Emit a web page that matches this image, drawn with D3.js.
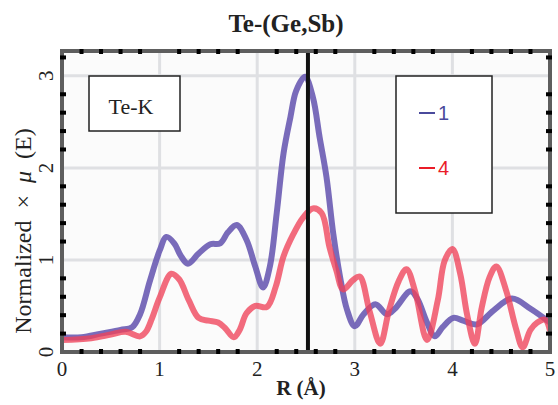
<!DOCTYPE html>
<html>
<head>
<meta charset="utf-8">
<script src="https://cdn.jsdelivr.net/npm/d3@7"></script>
<style>
  body { margin: 0; background: #fff; }
  svg { display: block; }
</style>
</head>
<body>
<svg id="chart" width="558" height="405"></svg>
<script>
// datos
const rS1 = [0, 0.2, 0.4, 0.6, 0.72, 0.8, 0.9, 1.0, 1.07, 1.15, 1.22, 1.29, 1.4, 1.52, 1.62, 1.7, 1.79, 1.89, 1.98, 2.06, 2.13, 2.2, 2.27, 2.34, 2.4, 2.49, 2.57, 2.64, 2.71, 2.78, 2.85, 2.92, 3.0, 3.09, 3.21, 3.33, 3.41, 3.57, 3.64, 3.74, 3.82, 3.9, 4.01, 4.11, 4.25, 4.42, 4.61, 4.8, 5.0];
const valS1 = [0.16, 0.16, 0.2, 0.24, 0.27, 0.41, 0.77, 1.1, 1.25, 1.18, 1.04, 0.96, 1.07, 1.17, 1.18, 1.3, 1.38, 1.22, 0.93, 0.7, 0.93, 1.51, 2.16, 2.55, 2.84, 2.99, 2.77, 2.33, 1.9, 1.28, 0.81, 0.46, 0.28, 0.41, 0.52, 0.41, 0.47, 0.66, 0.58, 0.32, 0.17, 0.27, 0.37, 0.34, 0.3, 0.45, 0.58, 0.47, 0.32];

const rS4 = [0, 0.3, 0.5, 0.65, 0.8, 0.86, 0.92, 1.0, 1.12, 1.2, 1.3, 1.4, 1.5, 1.6, 1.67, 1.76, 1.82, 1.89, 1.98, 2.1, 2.19, 2.27, 2.37, 2.47, 2.57, 2.66, 2.74, 2.81, 2.88, 2.98, 3.05, 3.15, 3.26, 3.35, 3.45, 3.53, 3.62, 3.74, 3.85, 3.92, 4.0, 4.08, 4.15, 4.23, 4.3, 4.38, 4.45, 4.55, 4.65, 4.72, 4.8, 4.87, 4.95, 5.0];
const valS4 = [0.13, 0.15, 0.19, 0.22, 0.17, 0.22, 0.36, 0.59, 0.85, 0.79, 0.56, 0.37, 0.34, 0.32, 0.26, 0.16, 0.24, 0.42, 0.5, 0.49, 0.71, 1.04, 1.28, 1.46, 1.56, 1.51, 1.14, 0.89, 0.68, 0.78, 0.82, 0.45, 0.09, 0.45, 0.77, 0.9, 0.65, 0.13, 0.56, 0.99, 1.12, 0.85, 0.41, 0.09, 0.48, 0.81, 0.93, 0.67, 0.26, 0.05, 0.24, 0.32, 0.35, 0.23];

const seriesNames = ['1', '4'];
const xTicks = [0, 1, 2, 3, 4, 5];
const yTicks = [0, 1, 2, 3];
const markerR = 2.52;

const titleText = 'Te-(Ge,Sb)';
const xLabel = 'R (Å)';
const yLabelParts = [['Normalized  ×  ', 'normal'], ['μ', 'italic'], ['  (E)', 'normal']];
const edgeLabel = 'Te-K';

// geometria
const plotLeft = 62, plotRight = 550, plotTop = 51, plotBottom = 352;
const serif = 'Liberation Serif, Times New Roman, serif';
const svg = d3.select('#chart');

const x = d3.scaleLinear().domain([0, 5]).range([plotLeft, plotRight]);
const y = d3.scaleLinear().domain([0, 3.27]).range([plotBottom, plotTop]);

// fondo del area
svg.append('rect')
  .attr('x', plotLeft).attr('y', plotTop)
  .attr('width', plotRight - plotLeft).attr('height', plotBottom - plotTop)
  .attr('fill', '#fbfbfb');

// rejilla
svg.append('g').selectAll('line').data(xTicks.slice(1, -1)).enter().append('line')
  .attr('x1', d => x(d)).attr('x2', d => x(d))
  .attr('y1', plotTop).attr('y2', plotBottom)
  .attr('stroke', '#dfe0e3').attr('stroke-width', 3);
svg.append('g').selectAll('line').data(yTicks.slice(1)).enter().append('line')
  .attr('x1', plotLeft).attr('x2', plotRight)
  .attr('y1', d => y(d)).attr('y2', d => y(d))
  .attr('stroke', '#dfe0e3').attr('stroke-width', 3);

// curvas
svg.append('clipPath').attr('id', 'clip').append('rect')
  .attr('x', plotLeft).attr('y', plotTop).attr('width', plotRight - plotLeft).attr('height', plotBottom - plotTop);

const line = d3.line()
  .x(d => x(d[0])).y(d => y(d[1]))
  .curve(d3.curveCatmullRom.alpha(0.5));

const plot = svg.append('g').attr('clip-path', 'url(#clip)');
plot.append('path')
  .datum(d3.zip(rS1, valS1))
  .attr('d', line)
  .attr('fill', 'none')
  .attr('stroke', '#6a5bb3')
  .attr('stroke-opacity', 0.9)
  .attr('stroke-width', 6);
plot.append('path')
  .datum(d3.zip(rS4, valS4))
  .attr('d', line)
  .attr('fill', 'none')
  .attr('stroke', '#f0435a')
  .attr('stroke-opacity', 0.78)
  .attr('stroke-width', 6);

// linea vertical negra
svg.append('line')
  .attr('x1', x(markerR)).attr('x2', x(markerR))
  .attr('y1', plotTop).attr('y2', plotBottom)
  .attr('stroke', '#111').attr('stroke-width', 4);

// marco
svg.append('rect')
  .attr('x', plotLeft).attr('y', plotTop)
  .attr('width', plotRight - plotLeft).attr('height', plotBottom - plotTop)
  .attr('fill', 'none')
  .attr('stroke', '#5e5e5e').attr('stroke-width', 4);

// marcas menores sobre el marco
const minorX = d3.range(1, 25).map(i => i * 0.2).filter(v => Math.abs(v - Math.round(v)) > 0.01);
const minorY = d3.range(1, 17).map(i => i * 0.2).filter(v => Math.abs(v - Math.round(v)) > 0.01);
const ticksG = svg.append('g').attr('fill', '#000');
minorX.forEach(v => {
  ticksG.append('rect').attr('x', x(v) - 2).attr('y', plotTop - 2).attr('width', 4).attr('height', 5);
  ticksG.append('rect').attr('x', x(v) - 2).attr('y', plotBottom - 3).attr('width', 4).attr('height', 5);
});
minorY.forEach(v => {
  ticksG.append('rect').attr('x', plotLeft - 2).attr('y', y(v) - 2).attr('width', 6).attr('height', 4);
  ticksG.append('rect').attr('x', plotRight - 4).attr('y', y(v) - 2).attr('width', 6).attr('height', 4);
});

// etiquetas de ejes
svg.append('g').selectAll('text').data(xTicks).enter().append('text')
  .attr('x', d => x(d)).attr('y', 376)
  .attr('text-anchor', 'middle')
  .attr('font-family', serif).attr('font-size', 21)
  .attr('fill', '#222')
  .text(d => d);

svg.append('g').selectAll('text').data(yTicks).enter().append('text')
  .attr('transform', d => `translate(53, ${y(d)}) rotate(-90)`)
  .attr('text-anchor', 'middle')
  .attr('font-family', serif).attr('font-size', 21)
  .attr('fill', '#222')
  .text(d => d);

svg.append('text')
  .attr('x', 286).attr('y', 32)
  .attr('text-anchor', 'middle')
  .attr('font-family', serif).attr('font-size', 25)
  .attr('font-weight', 'bold').attr('fill', '#222')
  .text(titleText);

svg.append('text')
  .attr('x', 301).attr('y', 395)
  .attr('text-anchor', 'middle')
  .attr('font-family', serif).attr('font-size', 21)
  .attr('font-weight', 'bold').attr('fill', '#222')
  .text(xLabel);

const yl = svg.append('text')
  .attr('transform', 'translate(31, 231) rotate(-90)')
  .attr('text-anchor', 'middle')
  .attr('font-family', serif).attr('font-size', 24)
  .attr('fill', '#222')
  .attr('xml:space', 'preserve')
  .style('white-space', 'pre');
yLabelParts.forEach(p => yl.append('tspan').attr('font-style', p[1]).text(p[0]));

// caja Te-K
svg.append('rect')
  .attr('x', 89).attr('y', 76).attr('width', 91).attr('height', 55)
  .attr('fill', '#fff').attr('stroke', '#222').attr('stroke-width', 1.5);
svg.append('text')
  .attr('x', 131).attr('y', 114)
  .attr('text-anchor', 'middle')
  .attr('font-family', serif).attr('font-size', 22)
  .attr('fill', '#222')
  .text(edgeLabel);

// leyenda
const legendColors = ['#4a4a9c', '#ea1c28'];
svg.append('rect')
  .attr('x', 396).attr('y', 76).attr('width', 96).attr('height', 137)
  .attr('fill', '#fff').attr('stroke', '#222').attr('stroke-width', 1.5);
const leg = svg.append('g').selectAll('g').data(seriesNames).enter().append('g')
  .attr('transform', (d, i) => `translate(419, ${113 + i * 55})`);
leg.append('line')
  .attr('x1', 0).attr('x2', 16)
  .attr('stroke', (d, i) => legendColors[i]).attr('stroke-width', 2);
leg.append('text')
  .attr('x', 19).attr('y', 7)
  .attr('font-family', 'Liberation Sans, sans-serif').attr('font-size', 20)
  .attr('fill', (d, i) => legendColors[i])
  .text(d => d);
</script>
</body>
</html>
